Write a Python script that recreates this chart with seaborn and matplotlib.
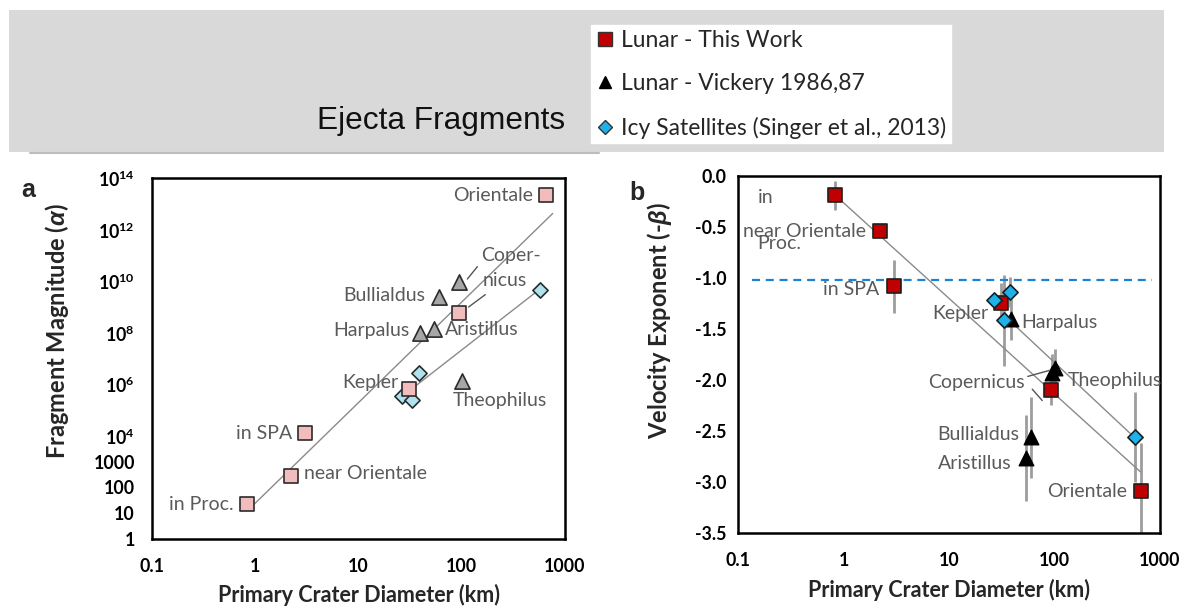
import numpy as np
import matplotlib
matplotlib.use("Agg")
import matplotlib.pyplot as plt
import seaborn as sns
from matplotlib.lines import Line2D
from matplotlib.patches import Rectangle
from matplotlib.ticker import LogLocator, NullLocator, NullFormatter

# ---------------- data ----------------
lunar_names = ["in Proc.", "near Orientale", "in SPA", "Kepler", "Copernicus", "Orientale"]
lunar_diam = [0.82, 2.2, 3.0, 31, 93, 660]
lunar_alpha = [22.5, 275, 1.3e4, 6.8e5, 5.9e8, 2.2e13]
lunar_beta = [-0.19, -0.535, -1.08, -1.245, -2.095, -3.085]
lunar_beta_err = [0.145, 0.04, 0.26, 0.20, 0.15, 0.47]

vickery_names = ["Harpalus", "Aristillus", "Bullialdus", "Copernicus", "Theophilus"]
vickery_diam = [39, 54, 60, 94, 100]
vickery_alpha = [1.0e8, 1.4e8, 2.5e9, 9.1e9, 1.4e6]
vickery_beta = [-1.405, -2.76, -2.56, -1.93, -1.885]
vickery_beta_err = [0.20, 0.42, 0.40, 0.19, 0.19]

icy_diam = [26.4, 32.8, 38.1, 575]
icy_alpha = [3.5e5, 2.4e5, 2.8e6, 4.7e9]
icy_beta = [-1.215, -1.415, -1.135, -2.56]
icy_beta_err = [0.0, 0.45, 0.15, 0.44]

# fitted trends: (intercept, slope, D_min, D_max)
# panel a: log10(alpha) = intercept + slope*log10(D); panel b: -beta = intercept + slope*log10(D)
fit_alpha_lunar = (1.40, 3.90, 0.95, 760)
fit_alpha_icy = (1.10, 3.12, 27, 580)
fit_beta_lunar = (-0.264, -0.936, 0.83, 650)
fit_beta_icy = (0.106, -0.967, 40.6, 571)
beta_reference = -1.02

diam_ticks = [0.1, 1, 10, 100, 1000]
diam_tick_labels = ["0.1", "1", "10", "100", "1000"]
alpha_ticks = [10.0 ** k for k in range(15)]
alpha_tick_labels = ["1", "10", "100", "1000", r"$\mathbf{10^{4}}$", "", r"$\mathbf{10^{6}}$", "",
                     r"$\mathbf{10^{8}}$", "", r"$\mathbf{10^{10}}$", "", r"$\mathbf{10^{12}}$", "",
                     r"$\mathbf{10^{14}}$"]
beta_ticks = [-3.5, -3.0, -2.5, -2.0, -1.5, -1.0, -0.5, 0.0]
beta_tick_labels = ["-3.5", "-3.0", "-2.5", "-2.0", "-1.5", "-1.0", "-0.5", "0.0"]

legend_labels = ["Lunar - This Work", "Lunar - Vickery 1986,87", "Icy Satellites (Singer et al., 2013)"]

# ---------------- style ----------------
sns.set_theme(style="white")
plt.rcParams.update({
    "font.family": ["Lato", "DejaVu Sans"],
    "mathtext.fontset": "custom",
    "mathtext.rm": "Lato",
    "mathtext.bf": "Lato:bold",
    "mathtext.it": "Liberation Sans:italic:bold",
})

W, H = 1181, 608
fig = plt.figure(figsize=(W / 100, H / 100), dpi=100)
fig.patch.set_facecolor("white")


def box(x0, y0, x1, y1):
    """Pixel box (left, top, right, bottom) -> figure fraction rect."""
    return [x0 / W, 1 - y1 / H, (x1 - x0) / W, (y1 - y0) / H]


# header band
fig.patches.append(Rectangle((9 / W, 1 - 152 / H), (1164 - 9) / W, (152 - 10) / H,
                             transform=fig.transFigure, facecolor="#d9d9d9", edgecolor="none", zorder=0))
fig.lines.append(Line2D([30 / W, 599 / W], [1 - 153 / H] * 2, transform=fig.transFigure,
                        color="#bdbdbd", lw=1.5))
fig.text(565 / W, 1 - 121 / H, "Ejecta Fragments", family="Liberation Sans", fontsize=22.8,
         ha="right", va="center", color="#111111")

axa = fig.add_axes(box(152.3, 178.3, 565, 539))
axb = fig.add_axes(box(738.3, 176, 1160, 533.3))

for ax in (axa, axb):
    ax.set_xscale("log")
axa.set_yscale("log")

GRAY_TXT = "#5a5a5a"
FIT = "#8a8a8a"


def fit_curve(fit, log_y):
    a, b, d0, d1 = fit
    d = np.logspace(np.log10(d0), np.log10(d1), 60)
    y = a + b * np.log10(d)
    return d, (10 ** y if log_y else y)


def label(ax, x, y, text, dx, dy, ha):
    ax.annotate(text, xy=(x, y), xytext=(dx, -dy), textcoords="offset pixels",
                ha=ha, va="center", fontsize=14, color=GRAY_TXT, zorder=5)


def leader(ax, x, y, p0, p1):
    base = ax.transData.transform((x, y))
    pts = np.array([[base[0] + p0[0], base[1] - p0[1]], [base[0] + p1[0], base[1] - p1[1]]])
    dat = ax.transData.inverted().transform(pts)
    ax.plot(dat[:, 0], dat[:, 1], color="#555555", lw=1.0, zorder=4)


# ---------------- panel a ----------------
for fit in (fit_alpha_lunar, fit_alpha_icy):
    d, y = fit_curve(fit, True)
    sns.lineplot(x=d, y=y, ax=axa, color=FIT, lw=1.0, zorder=2, sort=False)

sns.scatterplot(x=vickery_diam, y=vickery_alpha, marker="^", s=120, color="#a6a6a6",
                edgecolor="#2b2b2b", linewidth=1.2, ax=axa, zorder=3)
sns.scatterplot(x=icy_diam, y=icy_alpha, marker="D", s=60, color="#b2e1ee",
                edgecolor="#2b2b2b", linewidth=1.2, ax=axa, zorder=3)
sns.scatterplot(x=lunar_diam, y=lunar_alpha, marker="s", s=95, color="#f2bcbc",
                edgecolor="#2b2b2b", linewidth=1.2, ax=axa, zorder=4)

axa.set_xlim(0.1, 1000)
axa.set_ylim(1, 1e14)
axa.set_yticks(alpha_ticks, alpha_tick_labels, fontsize=12.8, fontweight="bold")
axa.yaxis.set_minor_locator(NullLocator())

ln = dict(zip(lunar_names, zip(lunar_diam, lunar_alpha)))
vk = dict(zip(vickery_names, zip(vickery_diam, vickery_alpha)))
label(axa, *ln["Orientale"], "Orientale", -13.4, 0, "right")
label(axa, *vk["Copernicus"], "Coper-", 21.7, -26.7, "left")
label(axa, *vk["Copernicus"], "nicus", 23.7, -1.7, "left")
label(axa, *vk["Bullialdus"], "Bullialdus", -13.7, -1, "right")
label(axa, *vk["Harpalus"], "Harpalus", -10.5, -2.3, "right")
label(axa, *vk["Aristillus"], "Aristillus", 11, 0, "left")
label(axa, *ln["Kepler"], "Kepler", -11.3, -6.6, "right")
label(axa, *vk["Theophilus"], "Theophilus", -9, 20, "left")
label(axa, *ln["in SPA"], "in SPA", -12.2, 0, "right")
label(axa, *ln["near Orientale"], "near Orientale", 13.5, -3, "left")
label(axa, *ln["in Proc."], "in Proc.", -13.4, 0, "right")
leader(axa, *vk["Copernicus"], (8.3, -3.4), (18.3, -15.7))
leader(axa, *ln["Copernicus"], (10, -6), (26.7, -18.4))

axa.set_ylabel(r"Fragment Magnitude ($\alpha$)", fontsize=17, fontweight="bold")
axa.yaxis.set_label_coords(-0.198, 0.575)

# ---------------- panel b ----------------
for xs, ys, es in ((lunar_diam, lunar_beta, lunar_beta_err),
                   (vickery_diam, vickery_beta, vickery_beta_err),
                   (icy_diam, icy_beta, icy_beta_err)):
    axb.errorbar(xs, ys, yerr=es, fmt="none", ecolor="#9d9d9d", elinewidth=2.0, capsize=0, zorder=1)

for fit in (fit_beta_lunar, fit_beta_icy):
    d, y = fit_curve(fit, False)
    sns.lineplot(x=d, y=y, ax=axb, color=FIT, lw=1.0, zorder=2, sort=False)

axb.axhline(beta_reference, xmin=0.032, xmax=0.98, color="#1b82d6", lw=1.6,
            linestyle=(0, (3.6, 2.6)), zorder=2)

sns.scatterplot(x=vickery_diam, y=vickery_beta, marker="^", s=110, color="black",
                edgecolor="black", linewidth=1.0, ax=axb, zorder=3)
sns.scatterplot(x=icy_diam, y=icy_beta, marker="D", s=60, color="#1fb2ea",
                edgecolor="#1e1e1e", linewidth=1.2, ax=axb, zorder=4)
sns.scatterplot(x=lunar_diam, y=lunar_beta, marker="s", s=105, color="#c00000",
                edgecolor="#1e1e1e", linewidth=1.2, ax=axb, zorder=3)

axb.set_xlim(0.1, 1000)
axb.set_ylim(-3.5, 0.0)
axb.set_yticks(beta_ticks, beta_tick_labels, fontsize=12.8, fontweight="bold")

lb = dict(zip(lunar_names, zip(lunar_diam, lunar_beta)))
vb = dict(zip(vickery_names, zip(vickery_diam, vickery_beta)))
label(axb, *lb["in Proc."], "in", -77, 2.3, "left")
label(axb, *lb["in Proc."], "Proc.", -77, 48.3, "left")
label(axb, *lb["near Orientale"], "near Orientale", -13.6, 1, "right")
label(axb, *lb["in SPA"], "in SPA", -15, 3.3, "right")
label(axb, *lb["Kepler"], "Kepler", -12.4, 10, "right")
label(axb, *vb["Harpalus"], "Harpalus", 10, 3.3, "left")
label(axb, *vb["Copernicus"], "Copernicus", -27.4, 9.4, "right")
label(axb, *vb["Theophilus"], "Theophilus", 13.3, 12.4, "left")
label(axb, *vb["Bullialdus"], "Bullialdus", -12.4, -3.3, "right")
label(axb, *vb["Aristillus"], "Aristillus", -15, 5.6, "right")
label(axb, *lb["Orientale"], "Orientale", -14, 0.7, "right")
leader(axb, *vb["Copernicus"], (-24, 3.4), (-2.4, -2.6))
leader(axb, *lb["Copernicus"], (-19, -0.7), (-9, 10.7))

axb.set_ylabel(r"Velocity Exponent (-$\beta$)", fontsize=17, fontweight="bold")
axb.yaxis.set_label_coords(-0.153, 0.597)

# ---------------- shared axis styling ----------------
for ax in (axa, axb):
    ax.set_xticks(diam_ticks, diam_tick_labels, fontsize=12.8, fontweight="bold")
    ax.xaxis.set_minor_locator(LogLocator(base=10, subs=np.arange(2, 10)))
    ax.xaxis.set_minor_formatter(NullFormatter())
    ax.set_xlabel("Primary Crater Diameter (km)", fontsize=15.5, fontweight="bold")
    ax.tick_params(axis="both", which="major", direction="inout", length=9, width=1.4,
                   color="black", labelcolor="black")
    ax.tick_params(axis="x", which="major", pad=9)
    ax.tick_params(axis="x", which="minor", direction="in", length=4, width=1.2, color="black")
    for s in ax.spines.values():
        s.set_visible(True)
        s.set_color("black")
        s.set_linewidth(1.8)
    ax.set_facecolor("white")
axa.xaxis.set_label_coords(0.5, -0.125)
axb.xaxis.set_label_coords(0.5, -0.128)
axa.tick_params(axis="y", which="major", pad=8)
axb.tick_params(axis="y", which="major", pad=4)

fig.text(28 / W, 1 - 190 / H, "a", family="Liberation Sans", fontweight="bold", fontsize=18,
         ha="center", va="center")
fig.text(636.7 / W, 1 - 193.3 / H, "b", family="Liberation Sans", fontweight="bold", fontsize=18,
         ha="center", va="center")

# ---------------- legend ----------------
handles = [
    Line2D([], [], marker="s", linestyle="none", markersize=9.5, markerfacecolor="#c00000",
           markeredgecolor="#333333"),
    Line2D([], [], marker="^", linestyle="none", markersize=9, markerfacecolor="black",
           markeredgecolor="black"),
    Line2D([], [], marker="D", linestyle="none", markersize=7, markerfacecolor="#1fb2ea",
           markeredgecolor="#333333"),
]
leg = fig.legend(handles, legend_labels, loc="upper left", bbox_to_anchor=(591 / W, 1 - 25 / H),
                 frameon=True, fancybox=False, facecolor="white", edgecolor="white", framealpha=1,
                 fontsize=16.5, labelspacing=0.98, handlelength=0.8, handletextpad=0.3,
                 borderpad=0.2, borderaxespad=0)

fig.savefig("out.png", dpi=100)
